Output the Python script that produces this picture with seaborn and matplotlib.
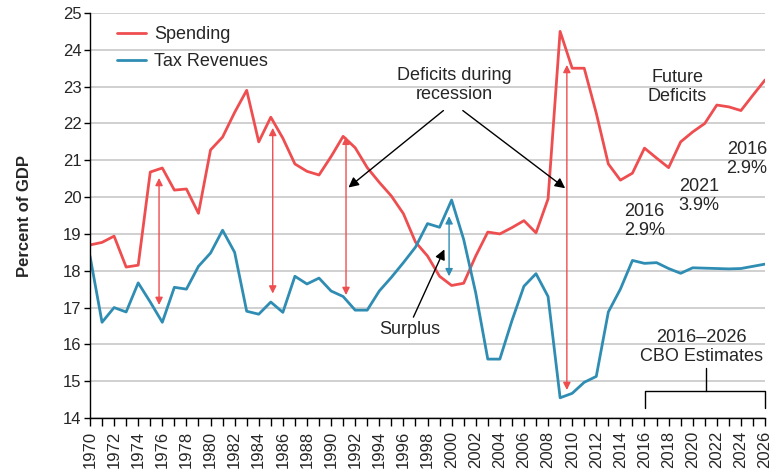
import matplotlib
matplotlib.use("Agg")
import matplotlib.pyplot as plt
import numpy as np
import pandas as pd
import seaborn as sns

# --- data (percent of GDP) ---
years = list(range(1970, 2027))

spending = [
    18.70, 18.77, 18.94, 18.10, 18.15, 20.68, 20.79, 20.19, 20.22, 19.56,
    21.28, 21.63, 22.30, 22.90, 21.50, 22.17, 21.60, 20.90, 20.70, 20.60,
    21.10, 21.65, 21.34, 20.80, 20.40, 20.03, 19.55, 18.78, 18.40, 17.85,
    17.60, 17.66, 18.40, 19.05, 19.00, 19.17, 19.36, 19.03, 19.95, 24.50,
    23.50, 23.50, 22.28, 20.90, 20.46, 20.65, 21.33, 21.06, 20.80, 21.50,
    21.77, 22.00, 22.50, 22.45, 22.35, 22.77, 23.18,
]

tax_revenues = [
    18.40, 16.60, 17.00, 16.88, 17.67, 17.15, 16.60, 17.55, 17.50, 18.12,
    18.48, 19.10, 18.50, 16.90, 16.82, 17.15, 16.87, 17.85, 17.64, 17.80,
    17.45, 17.30, 16.93, 16.93, 17.45, 17.82, 18.22, 18.64, 19.28, 19.18,
    19.92, 18.85, 17.40, 15.60, 15.60, 16.64, 17.58, 17.92, 17.30, 14.55,
    14.67, 14.97, 15.13, 16.88, 17.50, 18.28, 18.20, 18.22, 18.06, 17.93,
    18.08, 18.07, 18.06, 18.05, 18.06, 18.12, 18.18,
]

series_names = ["Spending", "Tax Revenues"]
series_colors = ["#ef4e50", "#2f8db3"]

# double-headed gap arrows: year, top, bottom
red_gap_years = [1975.73, 1985.16, 1991.24, 2009.56]
red_gap_tops = [20.52, 21.88, 21.64, 23.59]
red_gap_bottoms = [17.07, 17.38, 17.34, 14.76]
surplus_gap = (1999.79, 19.48, 17.85)

# pointer arrows: (text x, text y) -> (tip x, tip y)
recession_starts = [(1999.32, 22.35), (2000.93, 22.35)]
recession_tips = [(1991.44, 20.26), (2009.42, 20.24)]
surplus_start = (1996.83, 16.74)
surplus_tip = (1999.40, 18.58)

deficit_labels = ["2016\n2.9%", "2021\n3.9%", "2016\n2.9%"]
deficit_label_x = [2016.0, 2020.5, 2024.5]
deficit_label_y = [19.35, 20.03, 21.03]

df = pd.DataFrame({
    "year": years * 2,
    "pct": spending + tax_revenues,
    "series": [series_names[0]] * len(years) + [series_names[1]] * len(years),
})

sns.set_style("white")
plt.rcParams["font.family"] = ["Liberation Sans", "DejaVu Sans"]

fig, ax = plt.subplots(figsize=(7.73, 4.74), dpi=100)
fig.subplots_adjust(left=0.1164, right=0.9897, top=0.9726, bottom=0.1181)

sns.lineplot(
    data=df, x="year", y="pct", hue="series",
    palette=dict(zip(series_names, series_colors)),
    linewidth=2.0, ax=ax, solid_joinstyle="round", solid_capstyle="round",
)

ax.set_xlim(1970, 2026)
ax.set_ylim(14, 25)
ax.set_yticks(range(14, 26))
ax.set_xticks(range(1970, 2027, 2))
ax.set_xticks(range(1971, 2027, 2), minor=True)
ax.set_xticklabels([str(y) for y in range(1970, 2027, 2)], rotation=90)
ax.tick_params(axis="x", which="both", direction="out", length=6, width=1,
               color="black", labelsize=12, pad=3, bottom=True)
ax.tick_params(axis="y", direction="out", length=4, width=1, color="black",
               labelsize=12, pad=2, left=True)

ax.grid(axis="y", color="#c8c8c8", linewidth=1.2)
ax.grid(axis="x", visible=False)
ax.set_axisbelow(True)
for side in ("top", "right"):
    ax.spines[side].set_visible(False)
for side in ("left", "bottom"):
    ax.spines[side].set_color("black")
    ax.spines[side].set_linewidth(1)

ax.set_xlabel("")
ax.set_ylabel("Percent of GDP", fontsize=12, fontweight="bold", labelpad=22)

leg = ax.legend(loc="upper left", bbox_to_anchor=(0.03, 0.985), frameon=False,
                fontsize=13, handlelength=1.6, handletextpad=0.45,
                labelspacing=0.55, borderaxespad=0)
for line in leg.get_lines():
    line.set_linewidth(2.0)

# gap arrows
for x, top, bottom in zip(red_gap_years, red_gap_tops, red_gap_bottoms):
    ax.annotate("", xy=(x, top), xytext=(x, bottom),
                arrowprops=dict(arrowstyle="<|-|>", color=series_colors[0],
                                lw=1.0, mutation_scale=11, shrinkA=0, shrinkB=0))
ax.annotate("", xy=(surplus_gap[0], surplus_gap[1]), xytext=(surplus_gap[0], surplus_gap[2]),
            arrowprops=dict(arrowstyle="<|-|>", color=series_colors[1],
                            lw=1.0, mutation_scale=11, shrinkA=0, shrinkB=0))

# pointer arrows
ax.text(2000.2, 23.04, "Deficits during\nrecession", ha="center", va="center",
        fontsize=13, linespacing=1.15)
for start, tip in zip(recession_starts, recession_tips):
    ax.annotate("", xy=tip, xytext=start,
                arrowprops=dict(arrowstyle="-|>", color="black", lw=1.0,
                                mutation_scale=15, shrinkA=0, shrinkB=0))
ax.text(1996.56, 16.41, "Surplus", ha="center", va="center", fontsize=13)
ax.annotate("", xy=surplus_tip, xytext=surplus_start,
            arrowprops=dict(arrowstyle="-|>", color="black", lw=1.0,
                            mutation_scale=15, shrinkA=0, shrinkB=0))

ax.text(2018.7, 22.98, "Future\nDeficits", ha="center", va="center",
        fontsize=13, linespacing=1.15)
for label, x, y in zip(deficit_labels, deficit_label_x, deficit_label_y):
    ax.text(x, y, label, ha="center", va="center", fontsize=13, linespacing=1.15)

# CBO estimate bracket
ax.text(2020.7, 15.93, "2016\u20132026\nCBO Estimates", ha="center", va="center",
        fontsize=13, linespacing=1.15)
ax.plot([2021.1, 2021.1], [15.35, 14.73], color="black", lw=1.0, clip_on=False)
ax.plot([2016.06, 2016.06, 2026, 2026], [14.27, 14.73, 14.73, 14.27],
        color="black", lw=1.0, clip_on=False)

fig.savefig("out.png", dpi=100)
